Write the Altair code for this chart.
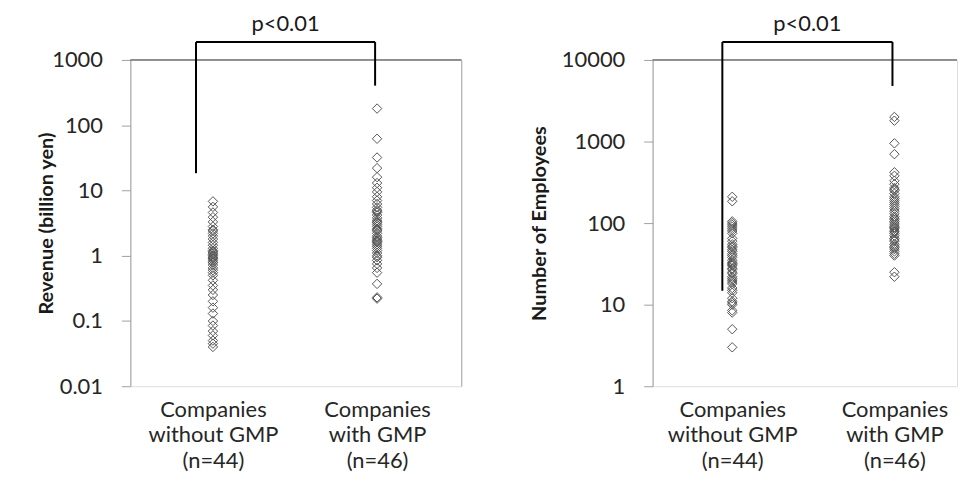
import altair as alt
import pandas as pd

FONT = "Lato"

# ---- data -------------------------------------------------------------
cat_pos = [1, 2]
cat_labels = [["Companies", "without GMP", "(n=44)"], ["Companies", "with GMP", "(n=46)"]]

rev_without = [6.8, 5.6, 4.6, 3.9, 3.3, 2.8, 2.5, 2.2, 2.0, 1.8,
               1.6, 1.45, 1.3, 1.2, 1.1, 1.05, 1.0, 0.95, 0.9, 0.85,
               0.8, 0.72, 0.65, 0.6, 0.55, 0.5, 0.42, 0.35, 0.3, 0.25,
               0.2, 0.16, 0.13, 0.1, 0.085, 0.07, 0.06, 0.05, 0.045, 0.04,
               2.4, 1.15, 0.92, 0.78]
rev_with = [180, 62, 32, 22, 16, 13, 11, 9.5, 8, 7,
            6.2, 5.5, 5, 4.6, 4.2, 3.8, 3.5, 3.2, 3.0, 2.8,
            2.6, 2.4, 2.2, 2.0, 1.9, 1.8, 1.7, 1.6, 1.5, 1.4,
            1.3, 1.2, 1.1, 1.0, 0.95, 0.85, 0.75, 0.65, 0.55, 0.37,
            0.23, 0.22, 4.8, 3.3, 2.5, 1.65]
emp_without = [210, 185, 105, 100, 95, 90, 85, 80, 75, 65,
               60, 55, 52, 50, 47, 45, 42, 40, 38, 35,
               33, 31, 30, 28, 27, 25, 24, 22, 21, 20,
               19, 18, 16, 15, 14, 12, 11, 10.5, 10, 8.5,
               8, 5, 3, 32]
emp_with = [2000, 1800, 950, 700, 420, 380, 330, 300, 270, 250,
            230, 210, 200, 190, 180, 170, 150, 140, 130, 120,
            115, 110, 105, 100, 95, 90, 85, 80, 78, 75,
            70, 65, 62, 60, 55, 52, 50, 48, 45, 42,
            40, 25, 22, 260, 160, 88]

rev_ticks = [0.01, 0.1, 1, 10, 100, 1000]
emp_ticks = [1, 10, 100, 1000, 10000]

p_text = "p<0.01"
# bracket: [left x, right x], top value, [left leg bottom, right leg bottom]
rev_bracket = {"x": [0.897, 1.988], "top": 1880, "bottom": [18.4, 404]}
emp_bracket = {"x": [0.939, 1.988], "top": 16600, "bottom": [14.8, 4800]}

H = 328


def label_expr():
    a = "[" + ",".join("'%s'" % s for s in cat_labels[0]) + "]"
    b = "[" + ",".join("'%s'" % s for s in cat_labels[1]) + "]"
    return "datum.value == %d ? %s : %s" % (cat_pos[0], a, b)


def panel(v_without, v_with, ticks, title, xdom, W, bracket, right_border, title_x):
    df = pd.DataFrame({
        "x": [cat_pos[0]] * len(v_without) + [cat_pos[1]] * len(v_with),
        "v": v_without + v_with,
    })
    xs = alt.Scale(domain=xdom, nice=False, zero=False)
    ys = alt.Scale(type="log", domain=[ticks[0], ticks[-1]], nice=False)

    pts = alt.Chart(df).mark_point(
        shape="diamond", filled=False, size=90, stroke="#555555",
        strokeWidth=1, opacity=1
    ).encode(
        x=alt.X("x:Q", scale=xs, axis=alt.Axis(
            values=cat_pos, labelExpr=label_expr(), domain=False, ticks=False,
            grid=False, labelFontSize=22, labelLineHeight=26, labelPadding=13,
            labelColor="#262626", title=None, labelBaseline="top")),
        y=alt.Y("v:Q", scale=ys, axis=alt.Axis(
            values=ticks, format="~g", grid=False, tickSize=9, tickColor="#a0a0a0",
            domainColor="#a0a0a0", labelFontSize=22, labelPadding=19,
            labelColor="#262626", title=title, titleFontSize=20,
            titleFontWeight="bold", titleColor="#1a1a1a", titleX=title_x,
            titleY=H / 2)),
    )

    legs = pd.DataFrame({"x": bracket["x"], "top": [bracket["top"]] * 2,
                         "bottom": bracket["bottom"]})
    leg_rules = alt.Chart(legs).mark_rule(color="black", strokeWidth=2).encode(
        x=alt.X("x:Q", scale=xs), y=alt.Y("top:Q", scale=ys), y2="bottom:Q")
    horiz = pd.DataFrame({"x": [bracket["x"][0]], "x2": [bracket["x"][1]],
                          "top": [bracket["top"]]})
    h_rule = alt.Chart(horiz).mark_rule(color="black", strokeWidth=2).encode(
        x=alt.X("x:Q", scale=xs), x2="x2:Q", y=alt.Y("top:Q", scale=ys))
    txt_df = pd.DataFrame({"x": [(bracket["x"][0] + bracket["x"][1]) / 2],
                           "top": [bracket["top"]], "t": [p_text]})
    txt = alt.Chart(txt_df).mark_text(fontSize=22, dy=-18, color="#1a1a1a",
                                      font=FONT).encode(
        x=alt.X("x:Q", scale=xs), y=alt.Y("top:Q", scale=ys), text="t:N")

    top_line = alt.Chart(pd.DataFrame({"a": [0]})).mark_rule(
        color="#333", strokeWidth=1).encode(
        x=alt.value(0), x2=alt.value(W), y=alt.value(0))
    layers = [top_line, pts, leg_rules, h_rule, txt]
    if right_border:
        rb = alt.Chart(pd.DataFrame({"a": [0]})).mark_rule(
            color="#b0b0b0", strokeWidth=1).encode(
            x=alt.value(W), y=alt.value(0), y2=alt.value(H))
        layers.insert(1, rb)
    return alt.layer(*layers).properties(width=W, height=H)


left = panel(rev_without, rev_with, rev_ticks, "Revenue (billion yen)",
             [0.497, 2.515], 333, rev_bracket, True, -74)
right = panel(emp_without, emp_with, emp_ticks, "Number of Employees",
              [0.509, 2.386], 306, emp_bracket, False, -104)

chart = alt.hconcat(left, right, spacing=66).configure_view(
    stroke=None).configure(font=FONT).properties(
    padding={"left": 28, "top": 3, "right": 0, "bottom": 0})

chart.save("out.html", embed_options={"renderer": "svg", "actions": False})
